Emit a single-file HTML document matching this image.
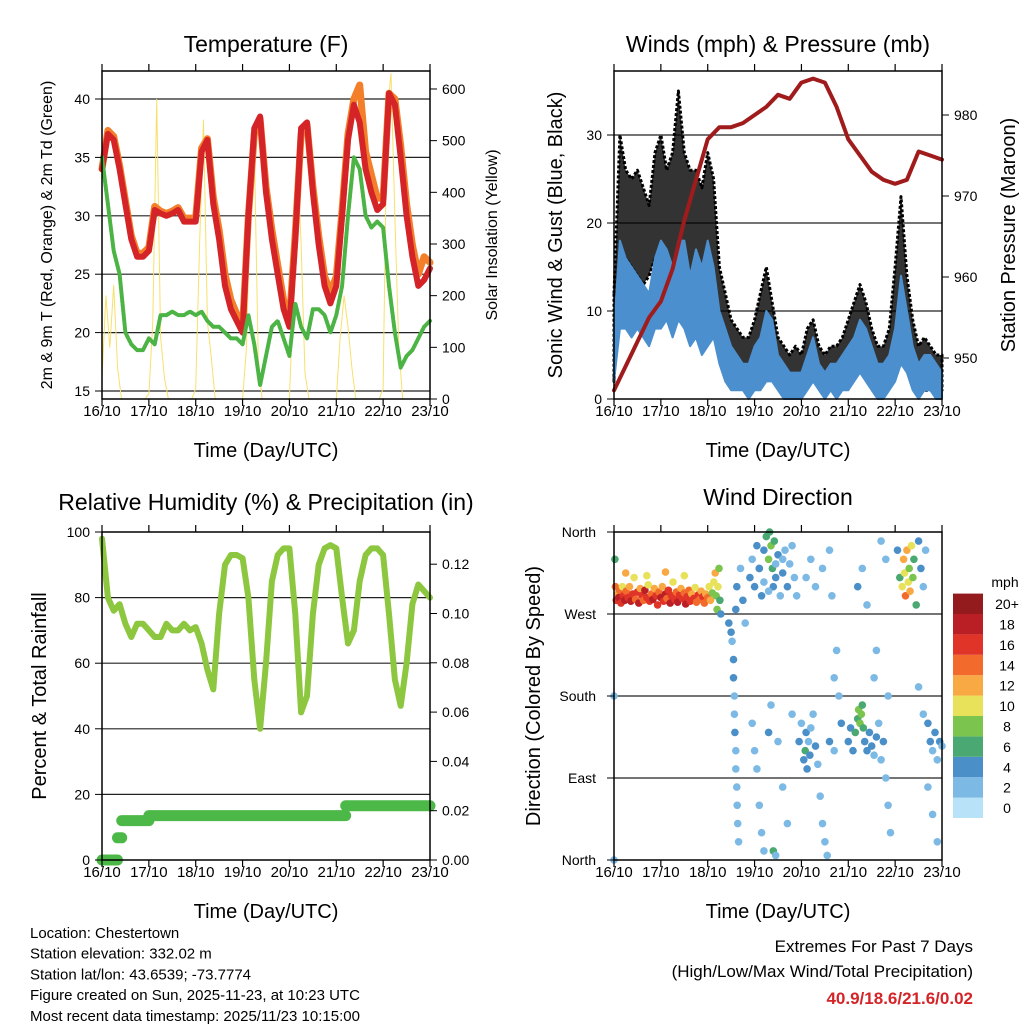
<!DOCTYPE html>
<html><head><meta charset="utf-8"><style>
body{margin:0;background:#fff;width:1024px;height:1024px;overflow:hidden}
svg{display:block;font-family:"Liberation Sans",sans-serif}
</style></head><body>
<svg id="s" width="1024" height="1024" viewBox="0 0 1024 1024" xmlns="http://www.w3.org/2000/svg"></svg>
<script>
// ---------- DATA ----------
const days = ["16/10","17/10","18/10","19/10","20/10","21/10","22/10","23/10"];
// temperature at 3h steps
const tempRed = [34,37,36.5,34,31,28,26.5,26.5, 27,30.5,30.2,30,30.2,30.5,29.5,29.5, 29.5,35.5,36.5,31,28,24,22,21, 20,30,37.5,38.5,32,28,25,22, 20.5,28,37.5,38,32,27.5,24,22.5, 24,30,36.5,39.5,38,34,32,30.5, 31,40.5,39.5,35,30,26.5,24,24.5, 25.5];
const tempOrange = [34,37.3,36.8,34.3,31.3,28.3,26.8,26.8, 27.3,30.8,30.4,30.2,30.4,30.7,29.8,29.8, 29.8,35.8,36.6,31.6,28.8,25,22.8,21.6, 20.5,30,37,38.3,32.5,28.8,25.8,22.8, 21,28.5,37,37.8,32.5,28.3,24.8,23.5, 24.8,30.5,37,40,41.2,35.5,33.5,31.5, 31.5,40.5,40,36,31,27.5,25,26.5, 26];
const dewGreen = [35,31,27,25,20,19,18.5,18.5, 19.5,19,21.5,21.5,21.8,21.5,21.5,21.8, 21.5,21.8,21,20.5,20.5,20,19.5,19.5, 19,21.5,19,15.5,18,20.5,21,19.5, 18,22.5,20.5,19.5,22,22,21.5,20, 21.5,24,30,35,34,30,29,29.5, 29,24,20,17,18,18.5,19.5,20.5, 21];
// solar at 2h steps
const solar = [40,200,100,220,60,0,0,0,0,0,0,0, 10,150,580,120,40,0,0,0,0,0,0,0, 20,300,540,150,80,0,0,0,0,0,0,0, 0,100,400,490,80,0,0,0,0,0,0,0, 0,200,470,300,50,0,0,0,0,0,0,0, 0,120,200,140,60,0,0,0,0,0,0,0, 20,550,630,350,100,0,0,0,0,0,0,0, 0];
// pressure 6h steps
const pressure = [946,949,952,955, 957,961,967,972, 977,978.5,978.5,979, 980,981,982.5,982, 984,984.5,984,981, 977,975,973,972, 971.5,972,975.5,975, 974.5];
// wind band 3h steps
const windLo = [2,8,8,7,8,7,6,8, 8,9,7,9,8,6,7,5, 6,7,4,2,1,1,1,0, 1,1,2,2,1,0,0,0, 0,1,2,1,0,1,0,1, 1,2,3,2,1,0,0,1, 2,4,3,1,0,1,1,0, 0];
const windHi = [8,18,16,15,14,13,12,16, 18,17,15,18,18,14,17,15, 18,15,10,8,6,5,4,4, 6,7,10,9,5,4,3,3, 3,5,7,4,3,4,4,5, 6,7,9,8,6,4,4,5, 8,14,10,6,4,5,5,4, 3];
const gustLo = [2,15,16,15,14,13,14,16, 15,15,14,16,14,13,14,12, 12,12,6,4,3,3,2,2, 2,3,4,3,2,1,1,1, 1,2,3,2,1,2,1,2, 3,3,4,3,2,1,1,2, 4,6,4,2,1,1,1,1, 1];
const gustHi = [12,30,26,25,26,24,22,28, 30,26,28,35,28,26,26,24, 28,25,15,12,9,8,7,7, 9,12,15,11,7,6,5,6, 5,8,9,6,5,6,6,7, 9,11,13,11,8,6,6,8, 15,23,14,9,6,7,6,5, 5];
// relative humidity 3h steps
const rh = [98,80,76,78,72,68,72,72, 70,68,68,72,70,70,72,70, 71,66,58,52,75,90,93,93, 92,80,55,40,60,85,93,95, 95,75,45,50,75,90,95,96, 95,80,66,70,85,93,95,95, 93,75,55,47,60,78,84,82, 80];
// precipitation steps (days, inches)
const precipT = [0,0.33,0.42,1.0,5.2,7.0];
const precipV = [0,0.009,0.016,0.018,0.022,0.022];
// wind direction points: [day, deg, mph]
const dirPts = [[0.0,180,2],[0.0,0,2],[0.02,330,6],[0.03,300,14],[0.05,285,16],[0.08,292,12],[0.1,288,18],[0.12,296,14],[0.15,282,16],[0.18,300,10],[0.2,290,16],[0.23,285,18],[0.25,315,12],[0.26,295,14],[0.3,288,16],[0.33,300,12],[0.36,284,18],[0.4,292,16],[0.43,310,10],[0.46,286,14],[0.5,294,16],[0.53,282,18],[0.56,298,12],[0.6,290,16],[0.63,285,14],[0.66,296,18],[0.7,288,16],[0.7,312,10],[0.73,302,10],[0.76,284,16],[0.8,292,14],[0.83,286,18],[0.86,298,12],[0.9,290,16],[0.93,280,16],[0.96,294,14],[1.0,288,18],[1.03,300,12],[1.06,284,16],[1.1,292,18],[1.1,316,12],[1.13,287,14],[1.16,296,16],[1.2,282,18],[1.23,290,16],[1.26,305,10],[1.3,286,16],[1.33,294,14],[1.36,283,18],[1.4,291,16],[1.43,298,12],[1.46,287,16],[1.5,293,14],[1.5,312,10],[1.53,281,18],[1.56,289,16],[1.6,296,14],[1.63,284,16],[1.66,292,12],[1.7,287,16],[1.73,299,10],[1.76,283,14],[1.8,291,16],[1.83,286,14],[1.86,295,12],[1.9,289,16],[1.93,282,14],[1.96,292,12],[2.0,288,14],[2.03,300,10],[2.06,285,12],[2.1,293,8],[2.13,305,10],[2.16,315,12],[2.18,290,8],[2.2,275,8],[2.22,300,10],[2.24,320,8],[2.26,285,6],[2.28,270,4],
[2.45,260,4],[2.5,250,4],[2.52,240,2],[2.55,220,4],[2.55,200,4],[2.57,180,2],[2.57,160,2],[2.58,140,4],[2.6,120,2],[2.6,100,2],[2.62,80,2],[2.63,60,2],[2.64,40,2],[2.66,20,2],[2.6,275,4],[2.62,300,4],[2.7,320,2],[2.75,285,4],[2.8,260,2],
[2.9,310,4],[2.95,330,2],[3.0,300,4],[3.05,345,4],[3.1,320,2],[3.15,290,4],[3.2,340,4],[3.25,355,6],[3.3,330,8],[3.32,360,6],[3.35,345,8],[3.38,320,6],[3.4,300,4],[3.42,350,6],[3.45,310,4],[3.5,335,4],[3.55,290,2],[3.6,315,4],[3.65,340,2],[3.7,300,4],[3.75,325,2],[3.8,345,2],[3.85,310,2],[3.9,290,2],[3.1,320,4],[3.2,305,2],[3.3,295,2],[3.45,325,2],[3.6,330,2],
[2.95,150,2],[3.0,120,2],[3.05,100,2],[3.1,60,2],[3.15,30,2],[3.2,10,2],[3.3,140,4],[3.35,170,2],[3.4,10,6],[3.45,5,2],[3.5,130,2],[3.6,80,2],[3.7,40,2],[3.8,160,2],
[3.95,130,4],[4.0,150,2],[4.05,110,4],[4.08,120,6],[4.1,140,4],[4.12,100,4],[4.15,130,2],[4.18,115,4],[4.2,145,2],[4.25,160,2],[4.3,125,4],[4.35,105,2],[4.4,70,2],[4.45,40,2],[4.5,20,2],[4.55,5,2],[4.1,310,2],[4.2,330,2],[4.3,300,2],[4.45,320,2],[4.6,340,2],[4.65,290,2],[4.7,200,2],[4.75,230,2],[4.8,180,2],[4.85,150,4],[4.6,130,4],[4.7,120,2],
[5.0,130,4],[5.05,145,4],[5.1,120,4],[5.15,140,6],[5.2,155,6],[5.22,165,8],[5.25,150,8],[5.28,160,8],[5.3,170,6],[5.32,145,6],[5.35,130,4],[5.4,120,4],[5.45,140,4],[5.5,125,4],[5.55,115,2],[5.6,135,4],[5.65,150,2],[5.7,110,2],[5.75,130,4],[5.8,90,2],[5.85,60,2],[5.9,30,2],[5.2,300,4],[5.3,320,2],[5.4,280,2],[5.55,200,2],[5.6,230,2],[5.7,350,2],[5.8,330,2],[5.85,180,2],
[6.05,340,4],[6.1,310,6],[6.15,300,10],[6.18,330,12],[6.2,315,10],[6.22,290,14],[6.25,340,12],[6.28,305,10],[6.3,320,8],[6.32,295,12],[6.35,345,10],[6.38,310,8],[6.4,330,6],[6.45,280,6],[6.5,350,4],[6.55,320,4],[6.6,300,2],[6.65,340,2],[6.7,150,4],[6.75,130,4],[6.8,120,2],[6.85,140,4],[6.9,110,2],[6.95,130,4],[7.0,125,2],[6.5,190,2],[6.6,160,2],[6.7,80,2],[6.8,50,2],[6.9,20,2]];
const speedColors = ["#b8e2f8","#7cb9e5","#4a8fc8","#4aa872","#7bc44e","#e7e25a","#f9a944","#f26a2c","#e03428","#bb1f26","#931a1d"];
const speedLabels = ["0","2","4","6","8","10","12","14","16","18","20+"];
const tempTicks = [15,20,25,30,35,40];
const solarTicks = [0,100,200,300,400,500,600];
const windTicks = [0,10,20,30];
const presTicks = [950,960,970,980];
const rhTicks = [0,20,40,60,80,100];
const precTicks = [0,0.02,0.04,0.06,0.08,0.1,0.12];
const dirTicks = [0,90,180,270,360];
const dirLabels = ["North","East","South","West","North"];

// ---------- HELPERS ----------
const S = document.getElementById('s');
const NS = "http://www.w3.org/2000/svg";
function mk(tag, at, parent){const e=document.createElementNS(NS,tag);for(const k in at)e.setAttribute(k,at[k]);(parent||S).appendChild(e);return e;}
function txt(x,y,s,size,anchor,extra){const e=mk('text',Object.assign({x:x,y:y,'font-size':size,'text-anchor':anchor||'middle',fill:'#000'},extra||{}));e.textContent=s;return e;}
const PX = {L:102,R:430}, PX2={L:614,R:942};
function xs(P,d){return P.L+d/7*(P.R-P.L);}
const yT = v=>391-(v-15)*11.68, yS = v=>399-v*0.5167;
const yW = v=>399-v*8.8, yP = v=>358-(v-950)*8.1;
const yR = v=>860-v*3.28, yPr = v=>860-v*2465;
const yD = v=>860-v/360*328;

function frame(P,y0,y1,name){
  const g=mk('g',{});
  
  
  mk('rect',{x:P.L,y:y0,width:P.R-P.L,height:y1-y0,fill:'none',stroke:'#000','stroke-width':1.5},g);
  days.forEach((d,i)=>{const x=xs(P,i);
    mk('line',{x1:x,x2:x,y1:y1,y2:y1+7,stroke:'#000','stroke-width':1.2},g);
    mk('line',{x1:x,x2:x,y1:y0,y2:y0-7,stroke:'#000','stroke-width':1.2},g);
    const t=txt(x,y1+17,d,15);
    
    
  });
  const at=txt((P.L+P.R)/2,y1+58,"Time (Day/UTC)",20);
  
  
}
function grid(P,y,w){mk('line',{x1:P.L,x2:P.R,y1:y,y2:y,stroke:'#222','stroke-width':w||1.2});}
function leftTicks(P,vals,f,fmt){vals.forEach(v=>{const y=f(v);mk('line',{x1:P.L-7,x2:P.L,y1:y,y2:y,stroke:'#000'});const t=txt(P.L-12,y+5,fmt?fmt(v):v,14,'end');});}
function rightTicks(P,vals,f,fmt){vals.forEach(v=>{const y=f(v);mk('line',{x1:P.R,x2:P.R+7,y1:y,y2:y,stroke:'#000'});const t=txt(P.R+12,y+5,fmt?fmt(v):v,14,'start');});}
function vtitle(x,y,s,size,name){const t=txt(x,y,s,size,'middle',{transform:`rotate(-90 ${x} ${y})`});}
function line(P,arr,step,f,attrs,name){const pts=arr.map((v,i)=>xs(P,i*step).toFixed(1)+','+f(v).toFixed(1)).join(' ');const e=mk('polyline',Object.assign({points:pts,fill:'none','stroke-linejoin':'round','stroke-linecap':'round'},attrs));return e;}
function band(P,lo,hi,step,f,attrs,name){let d='';hi.forEach((v,i)=>{d+=(i?'L':'M')+xs(P,i*step).toFixed(1)+','+f(v).toFixed(1);});for(let i=lo.length-1;i>=0;i--)d+='L'+xs(P,i*step).toFixed(1)+','+f(lo[i]).toFixed(1);d+='Z';const e=mk('path',Object.assign({d:d},attrs));}
function title(x,y,s,name){const t=txt(x,y,s,23);}

// ---------- PANEL 1 ----------
title(266,52,"Temperature (F)","temperature-title");
tempTicks.forEach(v=>grid(PX,yT(v)));
line(PX,solar,1/12,yS,{stroke:'#f7e06a','stroke-width':1},'solar-line');
line(PX,tempOrange,1/8,yT,{stroke:'#f47f2a','stroke-width':7},'temp-9m-line');
line(PX,tempRed,1/8,yT,{stroke:'#d42428','stroke-width':6},'temp-2m-line');
line(PX,dewGreen,1/8,yT,{stroke:'#4cb444','stroke-width':4,'stroke-dasharray':'3 1.5'},'dewpoint-line');
frame(PX,71,399,'temperature');
leftTicks(PX,tempTicks,yT);
rightTicks(PX,solarTicks,yS);
vtitle(52,235,"2m & 9m T (Red, Orange) & 2m Td (Green)",16,'temp-y-axis-title');
vtitle(497,235,"Solar Insolation (Yellow)",16,'solar-y-axis-title');

// ---------- PANEL 2 ----------
title(778,52,"Winds (mph) & Pressure (mb)","winds-title");
[10,20,30].forEach(v=>grid(PX2,yW(v)));
band(PX2,gustLo,gustHi,1/8,yW,{fill:'#000','fill-opacity':0.8,stroke:'#000','stroke-width':3,'stroke-dasharray':'3 2','stroke-linejoin':'round'},'gust-band');
band(PX2,windLo,windHi,1/8,yW,{fill:'#4b8fce',stroke:'#4b8fce','stroke-width':2,'stroke-linejoin':'round'},'wind-band');
line(PX2,pressure,1/4,yP,{stroke:'#a01c1c','stroke-width':4},'pressure-line');
frame(PX2,71,399,'winds');
leftTicks(PX2,windTicks,yW);
rightTicks(PX2,presTicks,yP);
vtitle(562,235,"Sonic Wind & Gust (Blue, Black)",20,'wind-y-axis-title');
vtitle(1015,235,"Station Pressure (Maroon)",20,'pressure-y-axis-title');

// ---------- PANEL 3 ----------
title(266,510,"Relative Humidity (%) & Precipitation (in)","humidity-title");
[20,40,60,80].forEach(v=>grid(PX,yR(v)));
line(PX,rh,1/8,yR,{stroke:'#8dc63f','stroke-width':6},'rh-line');
(function(){let d='';for(let i=0;i<precipT.length-1;i++){const y=yPr(precipV[i]);d+='M'+xs(PX,precipT[i]).toFixed(1)+','+y.toFixed(1)+'H'+xs(PX,precipT[i+1]).toFixed(1);}
const e=mk('path',{d:d,stroke:'#4cb848','stroke-width':11,fill:'none','stroke-linecap':'round'});

})();
frame(PX,532,860,'humidity');
leftTicks(PX,rhTicks,yR);
rightTicks(PX,precTicks,yPr,v=>v.toFixed(2));
vtitle(46,696,"Percent & Total Rainfall",20,'rh-y-axis-title');

// ---------- PANEL 4 ----------
title(778,505,"Wind Direction","wind-direction-title");
[90,180,270].forEach(v=>grid(PX2,yD(v)));
function spdIdx(s){return Math.max(0,Math.min(10,Math.floor(s/2)));}
dirPts.forEach(p=>{const c=mk('circle',{cx:xs(PX2,p[0]).toFixed(1),cy:yD(p[1]).toFixed(1),r:3.8,fill:speedColors[spdIdx(p[2])]});

});
frame(PX2,532,860,'wind-direction');
dirTicks.forEach((v,i)=>{const y=yD(v);mk('line',{x1:PX2.L-7,x2:PX2.L,y1:y,y2:y,stroke:'#000'});const t=txt(PX2.L-18,y+5,dirLabels[i],14,'end');

});
vtitle(540,696,"Direction (Colored By Speed)",20,'direction-y-axis-title');
const lg=mk('g',{});


txt(1005,587,"mph",14,'middle',{});
speedColors.forEach((c,i)=>{const y=818-(i+1)*20.4;
  const r=mk('rect',{x:953,y:y,width:30,height:20.4,fill:c},lg);
  
  
  const t=txt(1007,y+15.5,speedLabels[i],14,'middle');
  
  });

// ---------- FOOTER ----------
["Location: Chestertown","Station elevation: 332.02 m","Station lat/lon: 43.6539; -73.7774","Figure created on Sun, 2025-11-23, at 10:23 UTC","Most recent data timestamp: 2025/11/23 10:15:00"].forEach((s,i)=>{const t=txt(30,938+i*20.7,s,15,'start');

});
const e1=txt(973,952,"Extremes For Past 7 Days",17,'end');


const e2=txt(973,977,"(High/Low/Max Wind/Total Precipitation)",17,'end');


const e3=txt(973,1004,"40.9/18.6/21.6/0.02",17,'end',{fill:'#d42428','font-weight':'bold'});


</script>
</body></html>
